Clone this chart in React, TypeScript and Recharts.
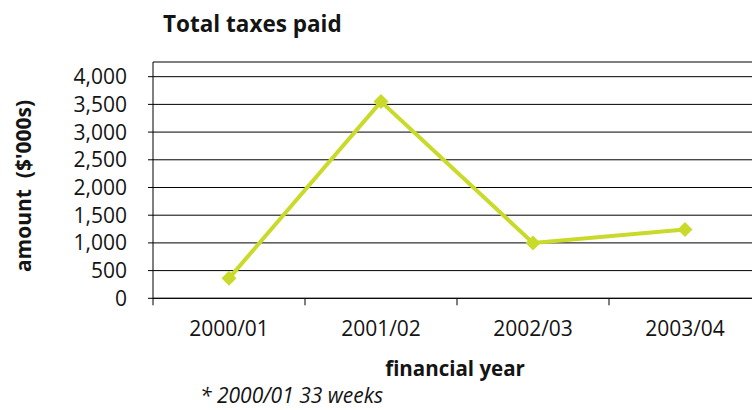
import React from "react";
import { LineChart, Line, XAxis, YAxis, CartesianGrid } from "recharts";

const categories = ["2000/01", "2001/02", "2002/03", "2003/04"];
const taxesPaid = [360, 3550, 1000, 1240];
const yTicks = [0, 500, 1000, 1500, 2000, 2500, 3000, 3500, 4000];
const title = "Total taxes paid";
const xTitle = "financial year";
const yTitle = "amount  ($'000s)";
const footnote = "* 2000/01 33 weeks";

const data = categories.map((c, i) => ({ x: i + 0.5, name: c, value: taxesPaid[i] }));
const boundaryTicks = categories.map((_, i) => i).concat([categories.length]);
const centerTicks = categories.map((_, i) => i + 0.5);

const FONT = "'Open Sans', sans-serif";
const LINE_COLOR = "#C9DA2A";
const TEXT = "#141414";

const Diamond = (props: any) => {
  const { cx, cy, index } = props;
  if (cx == null || cy == null) return null;
  const r = 7.5;
  return (
    <path
      key={`d-${index}`}
      d={`M${cx},${cy - r} L${cx + r},${cy} L${cx},${cy + r} L${cx - r},${cy} Z`}
      fill={LINE_COLOR}
      stroke="none"
    />
  );
};

const EmptyTick = () => <g />;

const CategoryTick = (props: any) => {
  const { x, y, payload } = props;
  return (
    <text
      x={x}
      y={y}
      dy={15}
      textAnchor="middle"
      fontFamily={FONT}
      fontSize={21}
      fill={TEXT}
    >
      {categories[Math.floor(payload.value)]}
    </text>
  );
};

export default function App() {
  return (
    <div
      style={{
        position: "absolute",
        left: 0,
        top: 0,
        width: 752,
        height: 410,
        overflow: "hidden",
        background: "#fff",
      }}
    >
      <LineChart
        width={770}
        height={410}
        data={data}
        margin={{ top: 62, right: 9, bottom: 64.7, left: 0 }}
      >
        <CartesianGrid
          horizontal={true}
          vertical={false}
          stroke="#000"
          strokeWidth={1}
          xAxisId="a"
        />
        <XAxis
          xAxisId="b"
          dataKey="x"
          type="number"
          domain={[0, categories.length]}
          ticks={centerTicks}
          interval={0}
          tick={CategoryTick}
          tickSize={0}
          tickMargin={16}
          height={40}
          axisLine={false}
          tickLine={false}
        />
        <XAxis
          xAxisId="a"
          dataKey="x"
          type="number"
          domain={[0, categories.length]}
          ticks={boundaryTicks}
          interval={0}
          tick={EmptyTick}
          tickSize={7}
          height={7}
          axisLine={{ stroke: "#000" }}
          tickLine={{ stroke: "#000" }}
        />
        <YAxis
          type="number"
          domain={[0, 4265]}
          ticks={yTicks}
          interval={0}
          width={153}
          tickSize={5}
          tickMargin={21}
          axisLine={{ stroke: "#000" }}
          tickLine={{ stroke: "#000" }}
          tickFormatter={(v: number) => v.toLocaleString("en-US")}
          tick={{ fontFamily: FONT, fontSize: 21, fill: TEXT }}
        />
        <Line
          xAxisId="a"
          dataKey="value"
          stroke={LINE_COLOR}
          strokeWidth={4}
          dot={Diamond}
          activeDot={false}
          isAnimationActive={false}
        />
      </LineChart>
      <svg
        width={752}
        height={410}
        style={{ position: "absolute", left: 0, top: 0, pointerEvents: "none" }}
      >
        <text x={163} y={32} fontFamily={FONT} fontWeight={700} fontSize={22.5} fill={TEXT}>
          {title}
        </text>
        <text
          x={455}
          y={376}
          textAnchor="middle"
          fontFamily={FONT}
          fontWeight={700}
          fontSize={20.5}
          fill={TEXT}
        >
          {xTitle}
        </text>
        <text x={200} y={403} fontFamily={FONT} fontStyle="italic" fontSize={21} fill={TEXT}>
          {footnote}
        </text>
        <text
          x={0}
          y={0}
          transform="translate(30.5,186) rotate(-90)"
          textAnchor="middle"
          fontFamily={FONT}
          fontWeight={700}
          fontSize={21}
          fill={TEXT}
          style={{ whiteSpace: "pre" }}
        >
          {yTitle}
        </text>
      </svg>
    </div>
  );
}
